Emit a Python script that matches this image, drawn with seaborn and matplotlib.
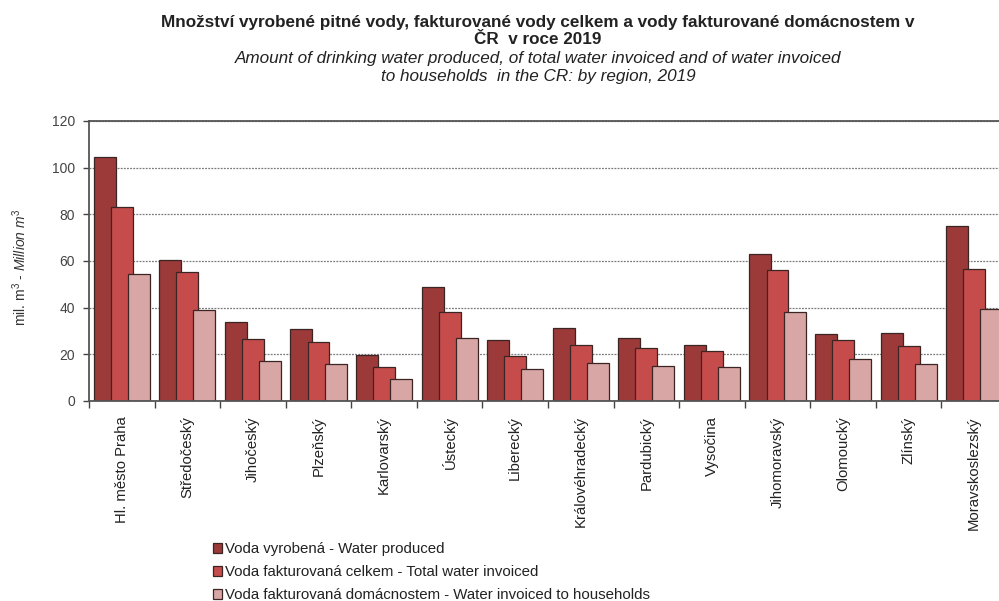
import matplotlib
matplotlib.use('Agg')
import matplotlib.pyplot as plt
import pandas as pd
import seaborn as sns

#%% Data (mil. m3)
regions = ['Hl. město Praha', 'Středočeský', 'Jihočeský', 'Plzeňský', 'Karlovarský',
           'Ústecký', 'Liberecký', 'Královéhradecký', 'Pardubický', 'Vysočina',
           'Jihomoravský', 'Olomoucký', 'Zlínský', 'Moravskoslezský']
produced = [104.4, 60.4, 33.7, 31.0, 19.6, 48.9, 26.3, 31.4, 27.1, 24.1, 63.0, 28.7, 29.3, 75.0]
invoiced = [83.0, 55.3, 26.4, 25.2, 14.7, 38.0, 19.3, 24.0, 22.7, 21.4, 56.0, 26.3, 23.7, 56.4]
households = [54.4, 39.1, 17.3, 15.9, 9.4, 27.1, 13.6, 16.2, 14.9, 14.4, 38.3, 18.1, 16.0, 39.3]
series_names = ['Voda vyrobená - Water produced',
                'Voda fakturovaná celkem - Total water invoiced',
                'Voda fakturovaná domácnostem - Water invoiced to households']
colors = ['#9c3a3a', '#c64b4b', '#d9a6a6']

df = pd.DataFrame({'region': regions * 3,
                   'series': [s for s in series_names for _ in regions],
                   'value': produced + invoiced + households})

#%% Style
sns.set_style('white')
plt.rcParams['font.family'] = ['Liberation Sans', 'DejaVu Sans']
plt.rcParams['mathtext.fontset'] = 'custom'
plt.rcParams['mathtext.rm'] = 'Liberation Sans'
plt.rcParams['mathtext.it'] = 'Liberation Sans:italic'

fig = plt.figure(figsize=(9.99, 6.01), dpi=100)
# plot area runs a bit past the right edge, like the cropped original
ax = fig.add_axes([89 / 999, 200 / 601, 918 / 999, 280 / 601])

sns.barplot(data=df, x='region', y='value', hue='series', palette=colors,
            width=0.78, edgecolor='#3b2424', linewidth=0.9, saturation=1,
            ax=ax, legend=True)

# Excel-like overlapping bars: widen each bar around its centre
for cont in ax.containers:
    for bar in cont:
        c = bar.get_x() + bar.get_width() / 2
        bar.set_width(0.335)
        bar.set_x(c - 0.335 / 2)

ax.set_xlim(-0.5, 13.5)
ax.set_ylim(0, 120)
ax.set_yticks(range(0, 121, 20))
ax.tick_params(axis='y', labelsize=10, labelcolor='#444444', length=4,
               width=1, color='#444444', left=True, direction='out', pad=6)
ax.set_xticks(range(len(regions)))
ax.set_xticklabels(regions, rotation=90, fontsize=10.7, va='top', ha='center')
ax.tick_params(axis='x', length=0, pad=11, labelcolor='#222222')
ax.set_xticks([i - 0.5 for i in range(len(regions) + 1)], minor=True)
ax.tick_params(axis='x', which='minor', length=5, width=1, color='#444444',
               bottom=True, direction='out')

ax.yaxis.grid(True, linestyle=(0, (1.5, 1)), color='#7a7a7a', linewidth=0.9)
ax.set_axisbelow(True)
for side in ['left', 'bottom', 'top']:
    ax.spines[side].set_color('#555555')
    ax.spines[side].set_linewidth(1.3)
ax.spines['right'].set_visible(False)
ax.set_xlabel('')
ax.set_ylabel('')

fig.text(20 / 999, 1 - 267 / 601, r'mil. m$^3$ - $\mathit{Million\ m^3}$',
         rotation=90, ha='center', va='center', fontsize=10, color='#333333')

#%% Titles
fig.text(538 / 999, 1 - 22 / 601,
         'Množství vyrobené pitné vody, fakturované vody celkem a vody fakturované domácnostem v',
         ha='center', va='center', fontsize=12.3, fontweight='bold', color='#222222')
fig.text(538 / 999, 1 - 40 / 601, 'ČR  v roce 2019',
         ha='center', va='center', fontsize=12.3, fontweight='bold', color='#222222')
fig.text(538 / 999, 1 - 59 / 601,
         'Amount of drinking water produced, of total water invoiced and of water invoiced',
         ha='center', va='center', fontsize=12.3, style='italic', color='#222222')
fig.text(538 / 999, 1 - 77 / 601, 'to households  in the CR: by region, 2019',
         ha='center', va='center', fontsize=12.3, style='italic', color='#222222')

#%% Legend below the chart
handles, labels = ax.get_legend_handles_labels()
ax.get_legend().remove()
fig.legend(handles, labels, loc='upper left', bbox_to_anchor=(205 / 999, 1 - 535 / 601),
           frameon=False, fontsize=10.8, handlelength=0.65, handleheight=0.65,
           handletextpad=0.2, labelspacing=0.58, borderpad=0, labelcolor='#222222')

fig.savefig('out.png', dpi=100)
